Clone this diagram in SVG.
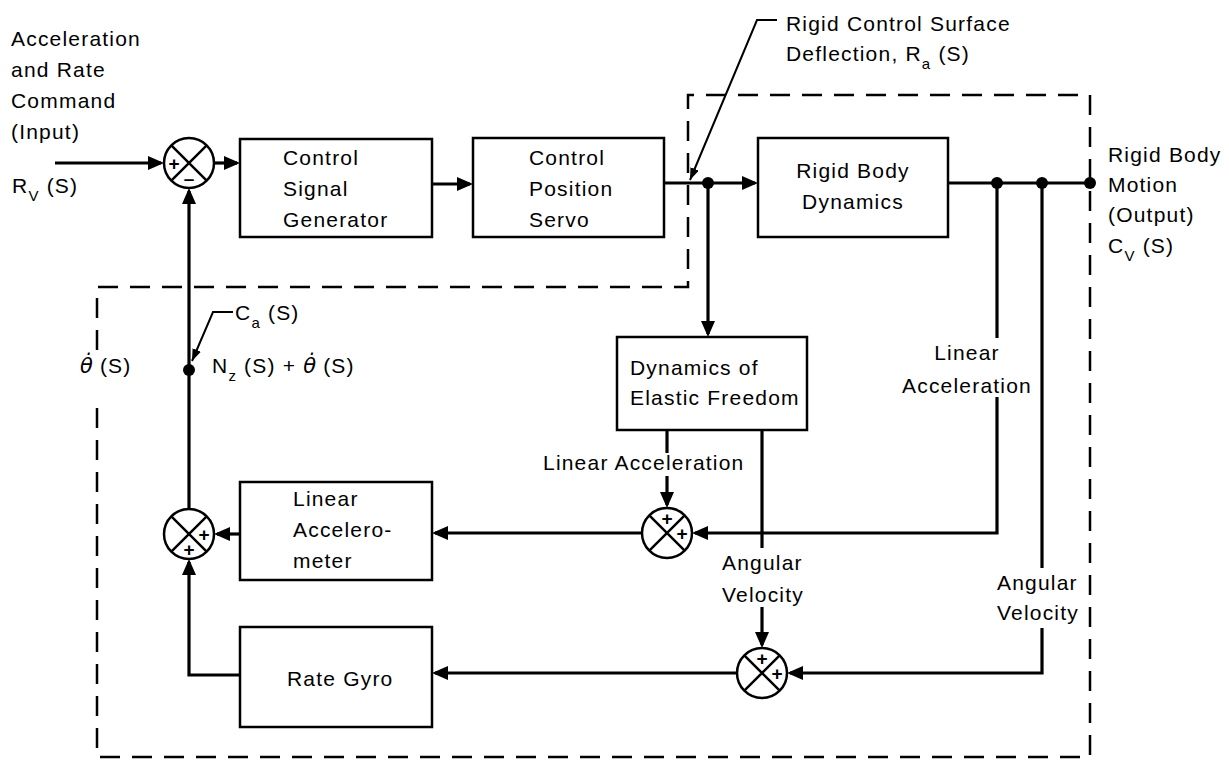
<svg xmlns="http://www.w3.org/2000/svg" width="1229" height="772" viewBox="0 0 1229 772">
<defs>
<style>
.box{fill:#fff;stroke:#000;stroke-width:2.5}
.ln{fill:none;stroke:#000;stroke-width:3.2}
.ld{fill:none;stroke:#000;stroke-width:2}
.dash{fill:none;stroke:#000;stroke-width:2.5;stroke-dasharray:20 12}
.sj{fill:#fff;stroke:#000;stroke-width:2.5}
.t{font-family:"Liberation Sans",Arial,sans-serif;font-size:21px;letter-spacing:1.2px;fill:#000}
.sub{font-size:15px}
.th{font-family:"DejaVu Sans",sans-serif;font-style:italic;letter-spacing:0}
.sg{font-family:"Liberation Sans",Arial,sans-serif;font-size:19px;font-weight:bold;fill:#000;text-anchor:middle}
.dot{fill:#000}
</style>
<marker id="ah" markerWidth="17" markerHeight="14" refX="13" refY="7" orient="auto" markerUnits="userSpaceOnUse"><path d="M0,0 L16,7 L0,14 z" fill="#000"/></marker>
<marker id="sa" markerWidth="13" markerHeight="9" refX="12" refY="4.5" orient="auto" markerUnits="userSpaceOnUse"><path d="M0,0 L12,4.5 L0,9 z" fill="#000"/></marker>
</defs>
<rect width="1229" height="772" fill="#fff"/>

<g id="boundary">
<path class="dash" d="M97,350 V287 H688 V95 H1090 V757 H97 V400"/>
</g>

<g id="connectors">
<path class="ln" d="M55,163 H161" marker-end="url(#ah)"/>
<path class="ln" d="M214,163 H237" marker-end="url(#ah)"/>
<path class="ln" d="M432,184 H470" marker-end="url(#ah)"/>
<path class="ln" d="M664,183 H755" marker-end="url(#ah)"/>
<path class="ln" d="M708,183 V334" marker-end="url(#ah)"/>
<path class="ln" d="M948,183 H1090"/>
<path class="ln" d="M997,183 V338"/>
<path class="ln" d="M997,397 V533 H695" marker-end="url(#ah)"/>
<path class="ln" d="M1042,183 V568"/>
<path class="ln" d="M1042,628 V673 H790" marker-end="url(#ah)"/>
<path class="ln" d="M667,430 V453"/>
<path class="ln" d="M667,476 V505" marker-end="url(#ah)"/>
<path class="ln" d="M762,430 V548"/>
<path class="ln" d="M762,607 V645" marker-end="url(#ah)"/>
<path class="ln" d="M642,533 H435" marker-end="url(#ah)"/>
<path class="ln" d="M737,673 H435" marker-end="url(#ah)"/>
<path class="ln" d="M240,534 H217" marker-end="url(#ah)"/>
<path class="ln" d="M240,675 H189 V562" marker-end="url(#ah)"/>
<path class="ln" d="M189,509 V191" marker-end="url(#ah)"/>
<path class="ld" d="M777,20 H757 L690,180" marker-end="url(#sa)"/>
<path class="ld" d="M233,312 H213 L192,361" marker-end="url(#sa)"/>
<circle class="dot" cx="708" cy="183" r="6"/>
<circle class="dot" cx="997" cy="183" r="6"/>
<circle class="dot" cx="1042" cy="183" r="6"/>
<circle class="dot" cx="1090" cy="183" r="6"/>
<circle class="dot" cx="189" cy="370" r="6"/>
</g>

<g id="sum1">
<circle class="sj" cx="189" cy="163" r="25"/>
<path class="ld" d="M171.3,145.3 L206.7,180.7 M206.7,145.3 L171.3,180.7" style="stroke-width:2.5"/>
<text class="sg" x="174" y="170">+</text>
<text class="sg" x="189" y="185">–</text>
</g>

<g id="sum2">
<circle class="sj" cx="189" cy="534" r="25"/>
<path class="ld" d="M171.3,516.3 L206.7,551.7 M206.7,516.3 L171.3,551.7" style="stroke-width:2.5"/>
<text class="sg" x="204" y="541">+</text>
<text class="sg" x="189" y="556">+</text>
</g>

<g id="sum3">
<circle class="sj" cx="667" cy="533" r="25"/>
<path class="ld" d="M649.3,515.3 L684.7,550.7 M684.7,515.3 L649.3,550.7" style="stroke-width:2.5"/>
<text class="sg" x="667" y="525">+</text>
<text class="sg" x="682" y="540">+</text>
</g>

<g id="sum4">
<circle class="sj" cx="762" cy="673" r="25"/>
<path class="ld" d="M744.3,655.3 L779.7,690.7 M779.7,655.3 L744.3,690.7" style="stroke-width:2.5"/>
<text class="sg" x="762" y="665">+</text>
<text class="sg" x="777" y="680">+</text>
</g>

<g id="csg">
<rect class="box" x="240" y="139" width="192" height="98"/>
<text class="t" x="283" y="165">Control</text>
<text class="t" x="283" y="196">Signal</text>
<text class="t" x="283" y="227">Generator</text>
</g>

<g id="cps">
<rect class="box" x="473" y="138" width="191" height="99"/>
<text class="t" x="529" y="165">Control</text>
<text class="t" x="529" y="196">Position</text>
<text class="t" x="529" y="227">Servo</text>
</g>

<g id="rbd">
<rect class="box" x="758" y="138" width="190" height="99"/>
<text class="t" x="853" y="178" text-anchor="middle">Rigid Body</text>
<text class="t" x="853" y="209" text-anchor="middle">Dynamics</text>
</g>

<g id="def">
<rect class="box" x="617" y="337" width="190" height="93"/>
<text class="t" x="630" y="375">Dynamics of</text>
<text class="t" x="630" y="405">Elastic Freedom</text>
</g>

<g id="la">
<rect class="box" x="240" y="482" width="192" height="98"/>
<text class="t" x="293" y="506">Linear</text>
<text class="t" x="293" y="537">Accelero-</text>
<text class="t" x="293" y="568">meter</text>
</g>

<g id="rg">
<rect class="box" x="240" y="627" width="192" height="100"/>
<text class="t" x="287" y="686">Rate Gyro</text>
</g>

<g id="labels">
<text class="t" x="11" y="46">Acceleration</text>
<text class="t" x="11" y="77">and Rate</text>
<text class="t" x="11" y="108">Command</text>
<text class="t" x="11" y="139">(Input)</text>
<text class="t" x="12" y="193">R<tspan class="sub" dy="8">V</tspan><tspan dy="-8"> (S)</tspan></text>
<text class="t" x="786" y="31">Rigid Control Surface</text>
<text class="t" x="786" y="61">Deflection, R<tspan class="sub" dy="8">a</tspan><tspan dy="-8"> (S)</tspan></text>
<text class="t" x="1108" y="162">Rigid Body</text>
<text class="t" x="1108" y="192">Motion</text>
<text class="t" x="1108" y="222">(Output)</text>
<text class="t" x="1108" y="253">C<tspan class="sub" dy="8">V</tspan><tspan dy="-8"> (S)</tspan></text>
<text class="t" x="235" y="320">C<tspan class="sub" dy="8">a</tspan><tspan dy="-8"> (S)</tspan></text>
<text class="t" x="212" y="373">N<tspan class="sub" dy="8">z</tspan><tspan dy="-8"> (S) + </tspan><tspan class="th">θ̇</tspan> (S)</text>
<text class="t" x="80" y="373"><tspan class="th">θ̇</tspan> (S)</text>
<text class="t" x="543" y="470">Linear Acceleration</text>
<text class="t" x="967" y="360" text-anchor="middle">Linear</text>
<text class="t" x="967" y="393" text-anchor="middle">Acceleration</text>
<text class="t" x="722" y="570">Angular</text>
<text class="t" x="722" y="602">Velocity</text>
<text class="t" x="997" y="590">Angular</text>
<text class="t" x="997" y="620">Velocity</text>
</g>
</svg>
